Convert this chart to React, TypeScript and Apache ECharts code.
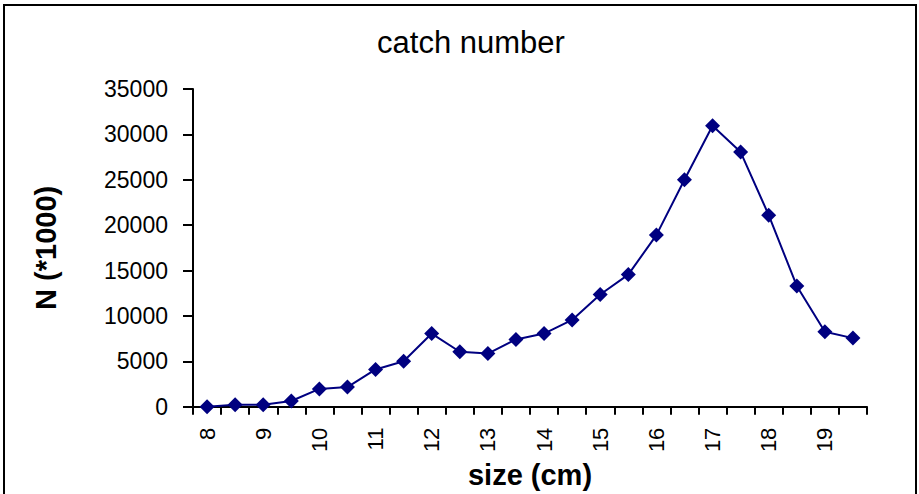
import React, { useEffect, useRef } from "react";
import * as echarts from "echarts";

const categories = ["8", "8.5", "9", "9.5", "10", "10.5", "11", "11.5", "12", "12.5", "13", "13.5", "14", "14.5", "15", "15.5", "16", "16.5", "17", "17.5", "18", "18.5", "19", "19.5"];
const catchValues = [0, 200, 200, 620, 1950, 2150, 4100, 5000, 8050, 6050, 5850, 7400, 8050, 9550, 12350, 14550, 18900, 25000, 30950, 28050, 21100, 13300, 8250, 7550];
const titleText = "catch number";
const xName = "size (cm)";
const yName = "N (*1000)";

const FONT = "'Liberation Sans', Arial, sans-serif";

export default function App() {
  const ref = useRef<HTMLDivElement>(null);
  useEffect(() => {
    if (!ref.current) return;
    const chart = echarts.init(ref.current, null, { renderer: "svg" });
    chart.setOption({
      animation: false,
      backgroundColor: "#ffffff",
      title: {
        text: titleText,
        left: 466,
        top: 22,
        textAlign: "center",
        textStyle: { fontFamily: FONT, fontSize: 31, fontWeight: "normal", color: "#000" },
      },
      graphic: [
        {
          type: "rect",
          shape: { x: 4, y: 5, width: 912, height: 500 },
          style: { fill: "none", stroke: "#000", lineWidth: 2 },
          silent: true,
        },
      ],
      grid: { left: 193, right: 52, top: 89, bottom: 86 },
      xAxis: {
        type: "category",
        data: categories,
        boundaryGap: true,
        name: xName,
        nameLocation: "middle",
        nameGap: 42,
        nameTextStyle: { fontFamily: FONT, fontSize: 29, fontWeight: "bold", color: "#000" },
        axisLine: { lineStyle: { color: "#000", width: 2 } },
        axisTick: { show: true, interval: 0, length: 8, lineStyle: { color: "#000", width: 2 } },
        axisLabel: {
          interval: 1,
          rotate: 90,
          margin: 21,
          fontFamily: FONT,
          fontSize: 22,
          color: "#000",
        },
        splitLine: { show: false },
      },
      yAxis: {
        type: "value",
        min: 0,
        max: 35000,
        interval: 5000,
        name: yName,
        nameLocation: "middle",
        nameGap: 133,
        nameTextStyle: { fontFamily: FONT, fontSize: 29, fontWeight: "bold", color: "#000" },
        axisLine: { show: true, lineStyle: { color: "#000", width: 2 } },
        axisTick: { show: true, length: 10, lineStyle: { color: "#000", width: 2 } },
        axisLabel: {
          margin: 25,
          fontFamily: FONT,
          fontSize: 23,
          color: "#000",
          formatter: (v: number) => String(v),
        },
        splitLine: { show: false },
      },
      series: [
        {
          type: "line",
          data: catchValues,
          symbol: "diamond",
          symbolSize: 15,
          itemStyle: { color: "#000080" },
          lineStyle: { color: "#000080", width: 2 },
        },
      ],
    });
    return () => chart.dispose();
  }, []);
  return <div ref={ref} style={{ position: "absolute", left: 0, top: 0, width: 919, height: 494 }} />;
}
